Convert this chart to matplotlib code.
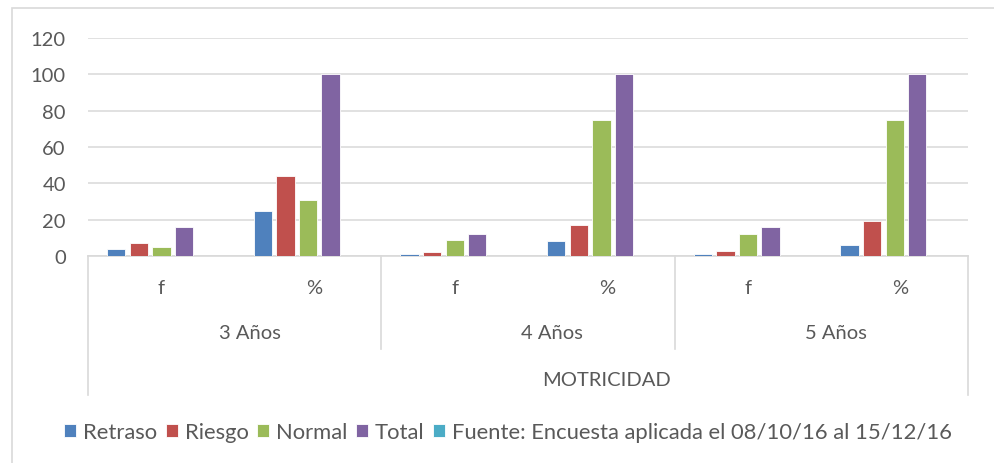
import matplotlib
matplotlib.use("Agg")
import matplotlib.pyplot as plt
import numpy as np
from matplotlib.patches import Rectangle

plt.rcParams['font.family'] = ['Lato', 'DejaVu Sans']

# data
years = ["3 Años", "4 Años", "5 Años"]
subcats = ["f", "%"]
group_title = "MOTRICIDAD"
series = ["Retraso", "Riesgo", "Normal", "Total",
          "Fuente: Encuesta aplicada el 08/10/16 al 15/12/16"]
retraso = [4, 25, 1, 8, 1, 6]
riesgo = [7, 44, 2, 17, 3, 19]
normal = [5, 31, 9, 75, 12, 75]
total = [16, 100, 12, 100, 16, 100]
fuente = [0, 0, 0, 0, 0, 0]
colors = ["#4F81BD", "#C0504D", "#9BBB59", "#8064A2", "#4BACC6"]
yticks = [0, 20, 40, 60, 80, 100, 120]

W, H = 995, 464
fig = plt.figure(figsize=(W / 100, H / 100), dpi=100)

# chart border
fig.patches.append(Rectangle((12 / W, -0.1), 1.2, (H - 9) / H + 0.1,
                             transform=fig.transFigure, fill=False,
                             edgecolor="#D9D9D9", linewidth=1.2))

x0, x1, ytop, ybot = 88, 968, 39, 257
ax = fig.add_axes([x0 / W, (H - ybot) / H, (x1 - x0) / W, (ybot - ytop) / H])
ph = ybot - ytop
sw = (x1 - x0) / 6

def fy(py):
    # pixel y -> axes fraction
    return (ybot - py) / ph

def fx(px):
    # pixel x -> data x
    return (px - x0) / sw

vals = [retraso, riesgo, normal, total, fuente]
n = len(vals)
slot = np.arange(6) + 0.5
pitch = 0.154
bw = 0.125
for i, (v, c, lab) in enumerate(zip(vals, colors, series)):
    off = (i - (n - 1) / 2) * pitch
    ax.bar(slot + off, v, width=bw, color=c, edgecolor="white",
           linewidth=0.6, label=lab, zorder=3)

fs = 14.5
tc = "#595959"
ax.set_xlim(0, 6)
ax.set_ylim(0, 120)
ax.set_yticks(yticks)
ax.grid(axis="y", color="#D9D9D9", linewidth=1.1, zorder=0)
for s in ["top", "right", "left"]:
    ax.spines[s].set_visible(False)
ax.spines["bottom"].set_color("#D9D9D9")
ax.spines["bottom"].set_linewidth(1.2)
ax.set_xticks([])
ax.tick_params(axis="y", length=0, pad=16, labelsize=fs, labelcolor=tc)

trans = ax.get_xaxis_transform()
for k in range(6):
    ax.text(slot[k] + (0.04 if k % 2 else 0), fy(289), subcats[k % 2],
            transform=trans, ha="center", va="center", fontsize=fs, color=tc)
for yr, px in zip(years, [250, 552, 836]):
    ax.text(fx(px), fy(334), yr, transform=trans, ha="center",
            va="center", fontsize=fs, color=tc)
ax.text(fx(606), fy(381), group_title, transform=trans, ha="center",
        va="center", fontsize=fs, color=tc)

for xb in [2, 4]:
    ax.plot([xb, xb], [0, fy(350)], transform=trans, color="#D9D9D9",
            linewidth=1.2, clip_on=False)
for xb in [0, 6]:
    ax.plot([xb, xb], [0, fy(396)], transform=trans, color="#D9D9D9",
            linewidth=1.2, clip_on=False)

leg = fig.legend(loc="center", bbox_to_anchor=(508 / W, (H - 433) / H),
                 ncol=5, frameon=False, fontsize=15.8, handlelength=0.55,
                 handleheight=0.55, handletextpad=0.3, columnspacing=0.4,
                 labelcolor=tc)

fig.savefig("out.png", dpi=100, facecolor="white")
